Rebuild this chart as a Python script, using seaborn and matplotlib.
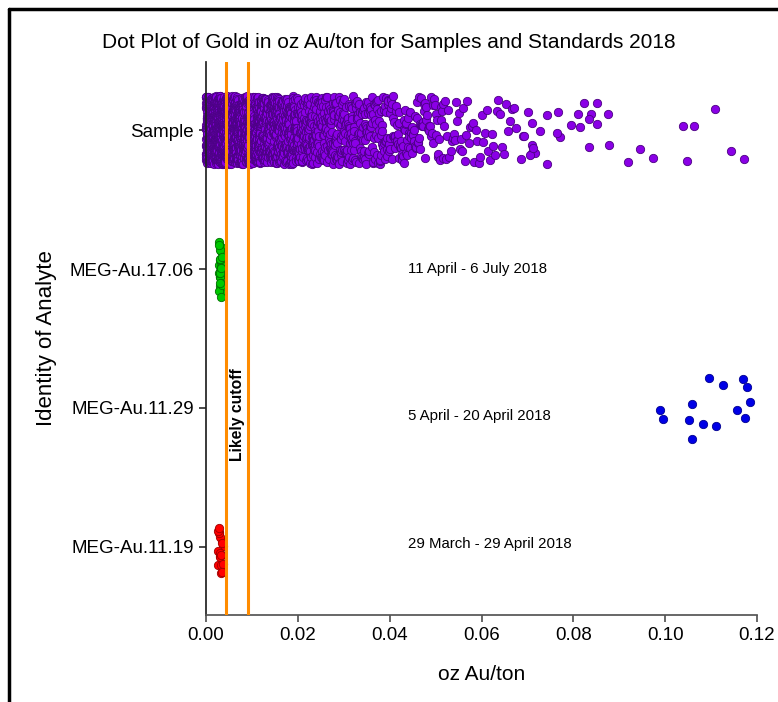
import numpy as np
import pandas as pd
import matplotlib
matplotlib.use("Agg")
import matplotlib.pyplot as plt
from matplotlib.lines import Line2D
import seaborn as sns

# ---------------- data ----------------
categories = ["Sample", "MEG-Au.17.06", "MEG-Au.11.29", "MEG-Au.11.19"]

# Sample: dense part given as estimated counts per 0.004 oz/ton bin
sample_bin_starts = [0.000, 0.004, 0.008, 0.012, 0.016, 0.020, 0.024, 0.028, 0.032,
                     0.036, 0.040, 0.044, 0.048, 0.052, 0.056, 0.060, 0.064]
sample_bin_counts = [600, 400, 300, 230, 170, 130, 100, 80, 65,
                     55, 45, 36, 26, 16, 13, 11, 9]
# Sample: sparse high values read individually
sample_high = [0.0691, 0.0711, 0.0710, 0.0743, 0.0727, 0.0770, 0.0686, 0.0717, 0.0705,
               0.0692, 0.0709, 0.0767, 0.0794, 0.0742, 0.0712, 0.0702, 0.0765, 0.0811,
               0.0839, 0.0823, 0.0834, 0.0852, 0.0876, 0.0834, 0.0851, 0.0878, 0.0814,
               0.0919, 0.0974, 0.0945, 0.1063, 0.1039, 0.1048, 0.1109, 0.1144, 0.1171]

meg_17_06 = [0.0029, 0.0031, 0.0033, 0.0030, 0.0032, 0.0034, 0.0029, 0.0031, 0.0033,
             0.0030, 0.0032, 0.0034, 0.0028, 0.0031, 0.0033, 0.0030, 0.0032, 0.0035,
             0.0029, 0.0031, 0.0033, 0.0030, 0.0032, 0.0034, 0.0029, 0.0031, 0.0033,
             0.0030, 0.0032, 0.0034]
meg_11_29 = [0.1058, 0.0996, 0.0989, 0.1125, 0.1096, 0.1083, 0.1051, 0.1110, 0.1058,
             0.1185, 0.1173, 0.1170, 0.1178, 0.1156]
meg_11_19 = [0.0030, 0.0027, 0.0034, 0.0031, 0.0028, 0.0036, 0.0032, 0.0026, 0.0033,
             0.0029, 0.0035, 0.0031, 0.0027, 0.0037, 0.0030, 0.0033, 0.0028, 0.0034]

cutoffs = [0.0044, 0.0092]
date_labels = ["11 April - 6 July 2018", "5 April - 20 April 2018", "29 March - 29 April 2018"]
x_ticks = [0.00, 0.02, 0.04, 0.06, 0.08, 0.10, 0.12]

face_colors = ["#8a00e6", "#00c800", "#0000e6", "#ff0000"]
edge_colors = ["#4b0082", "#007000", "#000090", "#a00000"]
jitters = [0.245, 0.21, 0.23, 0.19]

# expand sample bins (values spread within each bin)
sample_vals = []
for s, c in zip(sample_bin_starts, sample_bin_counts):
    sample_vals.extend(list(np.linspace(s, s + 0.004, c, endpoint=False)))
sample_vals.extend(sample_high)

series = [sample_vals, meg_17_06, meg_11_29, meg_11_19]
df = pd.concat([pd.DataFrame({"analyte": cat, "value": vals})
                for cat, vals in zip(categories, series)], ignore_index=True)

# ---------------- plot ----------------
sns.set_theme(style="ticks")
plt.rcParams["font.family"] = ["Liberation Sans", "DejaVu Sans"]
plt.rcParams["text.color"] = "black"
plt.rcParams["axes.labelcolor"] = "black"
plt.rcParams["xtick.color"] = "black"
plt.rcParams["ytick.color"] = "black"

fig = plt.figure(figsize=(7.78, 7.02), dpi=100)
ax = fig.add_axes([206 / 778, 1 - 615 / 702, (757 - 206) / 778, (615 - 62) / 702])

np.random.seed(11)
for cat, fc, ec, jt in zip(categories, face_colors, edge_colors, jitters):
    sub = df[df["analyte"] == cat]
    sns.stripplot(data=sub, x="value", y="analyte", order=categories, ax=ax,
                  color=fc, edgecolor=ec, linewidth=0.6, size=6, jitter=jt,
                  clip_on=False, zorder=2)

for xc in cutoffs:
    ax.axvline(xc, color="#ff8c00", lw=2.2, zorder=5)

ax.text(0.0069, 2.05, "Likely cutoff", rotation=90, ha="center", va="center",
        fontsize=11.3, fontweight="bold", color="black", zorder=6)

for i, lab in enumerate(date_labels):
    ax.text(0.0439, [1.0, 2.06, 2.98][i], lab, ha="left", va="center", fontsize=10.8)

ax.set_xlim(0, 0.12)
ax.set_ylim(3.49, -0.49)
ax.set_xticks(x_ticks)
ax.set_xticklabels([f"{t:.2f}" for t in x_ticks], fontsize=13.5)
ax.tick_params(axis="y", labelsize=13.5, length=5, color="#333333")
ax.tick_params(axis="x", length=5, color="#555555")
ax.set_xlabel("oz Au/ton", fontsize=15, labelpad=15)
ax.set_ylabel("Identity of Analyte", fontsize=16, labelpad=9)
sns.despine(ax=ax)
ax.spines["left"].set_color("#222222")
ax.spines["bottom"].set_color("#555555")

fig.text(0.5, 1 - 42 / 702, "Dot Plot of Gold in oz Au/ton for Samples and Standards 2018",
         ha="center", va="center", fontsize=15)

# outer frame (left and top edges visible)
fig.add_artist(Line2D([9 / 778, 9 / 778], [0, 1 - 9 / 702], transform=fig.transFigure,
                      color="black", lw=2.5))
fig.add_artist(Line2D([9 / 778, 1], [1 - 9 / 702, 1 - 9 / 702], transform=fig.transFigure,
                      color="black", lw=2.5))

fig.savefig("out.png", dpi=100)
